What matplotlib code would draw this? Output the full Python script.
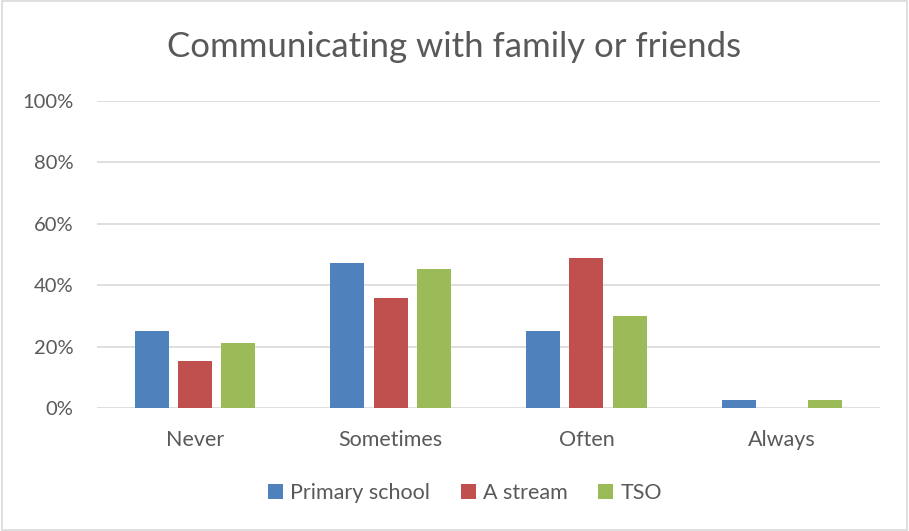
import numpy as np
import matplotlib.pyplot as plt
from matplotlib.patches import Rectangle

categories = ["Never", "Sometimes", "Often", "Always"]
series_names = ["Primary school", "A stream", "TSO"]
primary_school = [25.0, 47.1, 25.0, 2.5]
a_stream = [15.3, 35.8, 48.7, 0.0]
tso = [21.1, 45.3, 30.1, 2.7]
colors = ["#4F81BD", "#C0504D", "#9BBB59"]

plt.rcParams['font.family'] = ['Lato', 'DejaVu Sans']
text_color = "#595959"

fig = plt.figure(figsize=(9.09, 5.31), dpi=100)
ax = fig.add_axes([97 / 909, 1 - 408 / 531, (880 - 97) / 909, (408 - 101) / 531])

x = np.arange(len(categories))
width = 0.174
step = 0.221
for i, (vals, name) in enumerate(zip([primary_school, a_stream, tso], series_names)):
    ax.bar(x + (i - 1) * step, vals, width, color=colors[i], label=name, zorder=3)

ax.set_xlim(-0.5, len(categories) - 0.5)
ax.set_ylim(0, 100)
ax.set_yticks(np.arange(0, 101, 20))
ax.set_yticklabels([f"{v}%" for v in range(0, 101, 20)])
ax.set_xticks(x)
ax.set_xticklabels(categories)
ax.tick_params(length=0, colors=text_color)
ax.tick_params(axis='y', pad=17, labelsize=14.5)
ax.tick_params(axis='x', pad=16, labelsize=15.5)
ax.grid(axis='y', color="#D9D9D9", linewidth=1.2, zorder=0)
for s in ax.spines.values():
    s.set_visible(False)

fig.text(0.5, 1 - 47 / 531, "Communicating with family or friends", ha='center', va='center',
         fontsize=25, color=text_color)

handles, labels = ax.get_legend_handles_labels()
fig.legend(handles, labels, loc='center', bbox_to_anchor=(465 / 909, 1 - 493 / 531), ncol=3,
           frameon=False, fontsize=15.5, labelcolor=text_color, handlelength=0.7,
           handleheight=0.7, handletextpad=0.35, columnspacing=1.4)

# light frame around the whole chart
fig.patches.append(Rectangle((0.002, 0.002), 0.996, 0.996, transform=fig.transFigure,
                             fill=False, edgecolor="#D9D9D9", linewidth=1.2))

fig.savefig("out.png", dpi=100, facecolor="white")
